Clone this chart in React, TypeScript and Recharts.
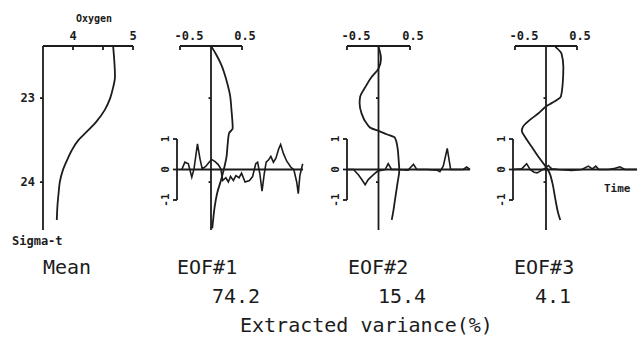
import React from "react";
import { LineChart, Line, XAxis, YAxis, ReferenceLine } from "recharts";

// Mean oxygen + first three EOFs of oxygen vs sigma-t, with their time amplitudes.

const INK = "#1c1c1c";
const MONO = "'DejaVu Sans Mono', 'Liberation Mono', monospace";

// sigma-t (depth) axis shared by all four profiles
const sigmaDomain: [number, number] = [22.38, 24.57];
const sigmaTicks = [23, 24];

// mean oxygen profile
const meanOxygen = [4.67, 4.7, 4.67, 4.62, 4.53, 4.39, 4.23, 4.09, 3.98, 3.9, 3.83, 3.78, 3.76, 3.74, 3.73];
const meanSigma = [22.39, 22.75, 22.87, 23.0, 23.14, 23.28, 23.4, 23.5, 23.62, 23.74, 23.86, 24.0, 24.13, 24.29, 24.45];

// EOF vertical loadings
const eof1Load = [0.01, 0.09, 0.17, 0.25, 0.31, 0.33, 0.35, 0.29, 0.27, 0.25, 0.21, 0.16, 0.1, 0.06, 0.04, 0.02];
const eof1Sigma = [22.39, 22.49, 22.61, 22.79, 22.98, 23.14, 23.36, 23.42, 23.54, 23.7, 23.84, 23.98, 24.13, 24.29, 24.41, 24.55];

const eof2Load = [0.0, 0.04, 0.0, -0.11, -0.21, -0.29, -0.3, -0.27, -0.19, -0.11, 0.0, 0.13, 0.26, 0.3, 0.32, 0.33, 0.3, 0.26, 0.23, 0.21];
const eof2Sigma = [22.39, 22.53, 22.65, 22.75, 22.87, 22.98, 23.06, 23.18, 23.3, 23.36, 23.39, 23.43, 23.47, 23.58, 23.74, 23.86, 24.02, 24.22, 24.37, 24.45];

const eof3Load = [0.15, 0.25, 0.28, 0.27, 0.24, 0.18, 0.09, 0.0, -0.12, -0.26, -0.37, -0.39, -0.34, -0.23, -0.12, -0.02, 0.05, 0.1, 0.15, 0.2, 0.23];
const eof3Sigma = [22.39, 22.47, 22.63, 22.82, 22.98, 23.02, 23.06, 23.1, 23.18, 23.26, 23.34, 23.39, 23.46, 23.58, 23.7, 23.8, 23.88, 24.0, 24.2, 24.38, 24.45];

// EOF time amplitudes (time in sample units 0..40)
const eof1Time = [1.5, 2.5, 3.6, 4.7, 5.4, 6.5, 7.3, 8.0, 9.1, 10.2, 11.0, 12.1, 13.1, 13.9, 14.5, 15.5, 16.3, 17.0, 17.9, 18.7, 19.7, 20.5, 21.6, 23.0, 24.0, 25.0, 25.6, 26.3, 27.0, 27.7, 28.3, 29.1, 29.8, 30.6, 31.4, 32.3, 32.9, 33.8, 34.8, 36.1, 37.1, 38.0, 38.5, 39.0, 39.9];
const eof1Amp = [-0.01, 0.24, 0.19, -0.25, 0.02, 0.84, 0.35, 0.02, 0.1, 0.24, 0.33, 0.26, 0.16, 0.02, -0.36, -0.27, -0.41, -0.23, -0.36, -0.2, -0.27, -0.12, -0.41, -0.36, -0.23, 0.19, 0.24, -0.14, -0.71, -0.14, 0.24, 0.32, 0.43, 0.24, 0.37, 0.68, 0.82, 0.52, 0.28, 0.08, -0.01, -0.41, -0.79, -0.21, 0.19];

const eof2Time = [0, 2.1, 3.7, 4.8, 5.9, 6.9, 8.6, 9.9, 11.3, 12.4, 13.4, 14.5, 16.2, 19.9, 21.6, 22.7, 25.9, 29.2, 30.2, 31.3, 32.6, 33.7, 35.7, 37.8, 38.9, 40];
const eof2Amp = [0, 0, -0.17, -0.33, -0.5, -0.33, -0.17, -0.06, -0.02, 0, 0.19, 0, 0, -0.02, 0.17, 0, 0, -0.02, -0.07, 0.11, 0.69, 0, 0, 0, 0.08, 0];

const eof3Time = [0, 2.8, 4.4, 5.5, 6.8, 7.8, 9.3, 10.3, 11.4, 12.5, 14.6, 18.9, 22.2, 24.3, 25.6, 26.7, 27.7, 30.8, 32.9, 34.5, 36.1, 40];
const eof3Amp = [0, 0.02, 0.19, 0, -0.09, -0.11, -0.02, 0.04, 0.13, 0.02, 0, -0.03, 0, 0.11, 0.02, 0.11, 0, 0, 0.04, 0.09, 0, 0];

const oxygenTicks = [4, 4.5, 5];
const loadTicks = [-0.5, 0.5];
const ampTicks = [-1, 0, 1];
const variance = ["74.2", "15.4", "4.1"];

const PLOT_TOP = 46;
const PLOT_H = 184;
const X_AXIS_H = 20;
const TS_TOP = 139;
const TS_H = 61;
const TS_PAD = 12;
const SW = 1.8;

function zip(xs: number[], ys: number[]) {
  return xs.map((x, i) => ({ x, y: ys[i] }));
}

function Txt({ x, y, size, bold, children }: any) {
  return (
    <div
      style={{
        position: "absolute",
        left: x,
        top: y - size / 2,
        fontSize: size,
        lineHeight: `${size}px`,
        fontFamily: MONO,
        fontWeight: bold ? 700 : 400,
        color: INK,
        whiteSpace: "nowrap",
      }}
    >
      {children}
    </div>
  );
}

function Profile({
  left,
  width,
  xs,
  ys,
  xDomain,
  xTicks,
  label,
  dx,
  sigmaAxis,
}: {
  left: number;
  width: number;
  xs: number[];
  ys: number[];
  xDomain: [number, number];
  xTicks: number[];
  label: (v: number) => string;
  dx: (v: number) => number;
  sigmaAxis?: boolean;
}) {
  const yW = sigmaAxis ? 40 : 0;
  const mL = sigmaAxis ? 0 : 16;
  const mR = 14;
  return (
    <div style={{ position: "absolute", left: left - yW - mL, top: PLOT_TOP - X_AXIS_H }}>
      <LineChart
        width={mL + yW + width + mR}
        height={X_AXIS_H + PLOT_H + 1}
        data={zip(xs, ys)}
        margin={{ top: 0, right: mR, bottom: 1, left: mL }}
      >
        <XAxis
          type="number"
          dataKey="x"
          orientation="top"
          height={X_AXIS_H}
          domain={xDomain}
          allowDataOverflow
          ticks={xTicks}
          interval={0}
          tickSize={-4}
          tickMargin={10}
          axisLine={{ stroke: INK, strokeWidth: SW }}
          tickLine={{ stroke: INK, strokeWidth: SW }}
          tick={(p: any) => (
            <text
              x={p.x + dx(p.payload.value)}
              y={p.y}
              textAnchor="middle"
              fontFamily={MONO}
              fontWeight={700}
              fontSize={12}
              fill={INK}
            >
              {label(p.payload.value)}
            </text>
          )}
        />
        <YAxis
          type="number"
          dataKey="y"
          domain={sigmaDomain}
          allowDataOverflow
          reversed
          hide={!sigmaAxis}
          width={yW}
          ticks={sigmaTicks}
          interval={0}
          tickSize={3}
          tickMargin={5}
          axisLine={{ stroke: INK, strokeWidth: SW }}
          tickLine={{ stroke: INK, strokeWidth: SW }}
          tick={{ fill: INK, fontFamily: MONO, fontWeight: 700, fontSize: 12 }}
        />
        {!sigmaAxis && <ReferenceLine x={0} stroke={INK} strokeWidth={SW} />}
        {!sigmaAxis &&
          sigmaTicks.map((s) => (
            <ReferenceLine
              key={s}
              segment={[
                { x: -0.04, y: s },
                { x: 0, y: s },
              ]}
              stroke={INK}
              strokeWidth={SW}
            />
          ))}
        <Line
          dataKey="y"
          type="monotoneY"
          dot={false}
          stroke={INK}
          strokeWidth={SW}
          isAnimationActive={false}
        />
      </LineChart>
    </div>
  );
}

function Amplitude({ left, width, ts, vs }: { left: number; width: number; ts: number[]; vs: number[] }) {
  const yW = 24;
  return (
    <div style={{ position: "absolute", left: left - yW, top: TS_TOP - TS_PAD }}>
      <LineChart
        width={yW + width + 4}
        height={TS_H + 2 * TS_PAD}
        data={ts.map((t, i) => ({ t, v: vs[i] }))}
        margin={{ top: TS_PAD, right: 4, bottom: TS_PAD, left: 0 }}
      >
        <XAxis type="number" dataKey="t" domain={[0, 40]} hide />
        <YAxis
          type="number"
          domain={[-1, 1]}
          allowDataOverflow
          ticks={ampTicks}
          interval={0}
          width={yW}
          tickSize={4}
          tickMargin={8}
          axisLine={{ stroke: INK, strokeWidth: SW }}
          tickLine={{ stroke: INK, strokeWidth: SW }}
          tick={(p: any) => (
            <text
              x={p.x}
              y={p.y}
              transform={`rotate(-90 ${p.x} ${p.y})`}
              textAnchor="middle"
              dominantBaseline="central"
              fontFamily={MONO}
              fontWeight={700}
              fontSize={11}
              fill={INK}
            >
              {String(p.payload.value)}
            </text>
          )}
        />
        <ReferenceLine y={0} stroke={INK} strokeWidth={SW} />
        <Line dataKey="v" type="linear" dot={false} stroke={INK} strokeWidth={1.6} isAnimationActive={false} />
      </LineChart>
    </div>
  );
}

const loadLabel = (v: number) => (v < 0 ? "-0.5" : "0.5");
const loadDx = (v: number) => (v < 0 ? 9 : 3);

export default function App() {
  return (
    <div
      style={{
        position: "fixed",
        left: 0,
        top: 0,
        width: 643,
        height: 342,
        background: "#fff",
        overflow: "hidden",
      }}
    >
      <Profile
        left={43}
        width={90}
        xs={meanOxygen}
        ys={meanSigma}
        xDomain={[3.5, 5]}
        xTicks={oxygenTicks}
        label={(v) => (v === 4.5 ? "" : String(v))}
        dx={() => 0}
        sigmaAxis
      />
      <Profile left={180} width={62} xs={eof1Load} ys={eof1Sigma} xDomain={[-0.5, 0.5]} xTicks={loadTicks} label={loadLabel} dx={loadDx} />
      <Profile left={347} width={63} xs={eof2Load} ys={eof2Sigma} xDomain={[-0.5, 0.5]} xTicks={loadTicks} label={loadLabel} dx={loadDx} />
      <Profile left={515} width={62} xs={eof3Load} ys={eof3Sigma} xDomain={[-0.5, 0.5]} xTicks={loadTicks} label={loadLabel} dx={loadDx} />

      <Amplitude left={177} width={126} ts={eof1Time} vs={eof1Amp} />
      <Amplitude left={347} width={123} ts={eof2Time} vs={eof2Amp} />
      <Amplitude left={513} width={124} ts={eof3Time} vs={eof3Amp} />

      <Txt x={76} y={19} size={10} bold>Oxygen</Txt>
      <Txt x={12} y={241} size={12} bold>Sigma-t</Txt>
      <Txt x={604} y={188} size={11} bold>Time</Txt>

      <Txt x={43} y={267} size={20}>Mean</Txt>
      <Txt x={177} y={267} size={20}>EOF#1</Txt>
      <Txt x={348} y={267} size={20}>EOF#2</Txt>
      <Txt x={514} y={267} size={20}>EOF#3</Txt>
      <Txt x={212} y={296} size={20}>{variance[0]}</Txt>
      <Txt x={378} y={296} size={20}>{variance[1]}</Txt>
      <Txt x={535} y={296} size={20}>{variance[2]}</Txt>
      <Txt x={240} y={325} size={20}>Extracted variance(%)</Txt>
    </div>
  );
}
